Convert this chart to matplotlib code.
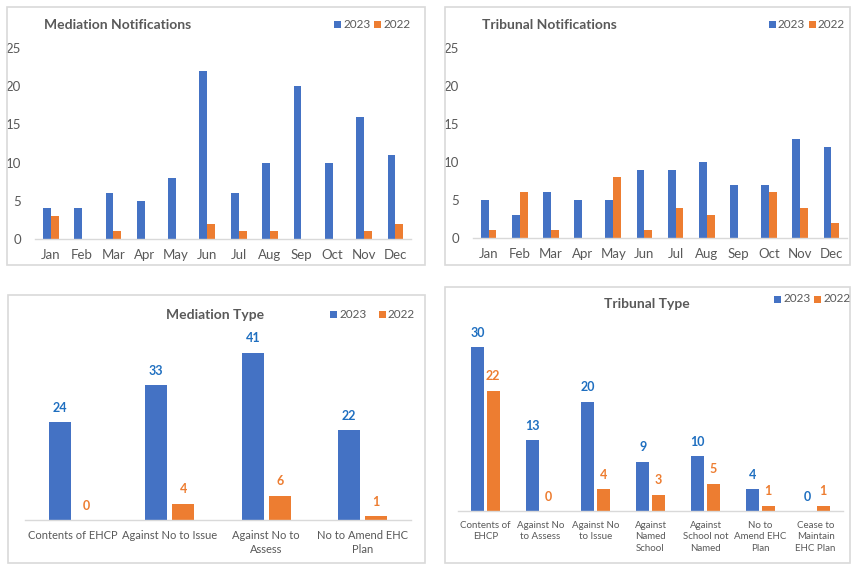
import matplotlib.pyplot as plt
from matplotlib.patches import Rectangle
import numpy as np

plt.rcParams['font.family'] = ['Lato', 'DejaVu Sans']

W, H = 852, 565
BLUE = '#4472C4'
ORANGE = '#ED7D31'
BLUE_LABEL = '#1F6FC0'
TEXT = '#595959'
LINE = '#D9D9D9'

months = ['Jan', 'Feb', 'Mar', 'Apr', 'May', 'Jun',
          'Jul', 'Aug', 'Sep', 'Oct', 'Nov', 'Dec']
med_2023 = [4, 4, 6, 5, 8, 22, 6, 10, 20, 10, 16, 11]
med_2022 = [3, 0, 1, 0, 0, 2, 1, 1, 0, 0, 1, 2]
trib_2023 = [5, 3, 6, 5, 5, 9, 9, 10, 7, 7, 13, 12]
trib_2022 = [1, 6, 1, 0, 8, 1, 4, 3, 0, 6, 4, 2]

med_types = ['Contents of EHCP', 'Against No to Issue',
             'Against No to\nAssess', 'No to Amend EHC\nPlan']
med_type_2023 = [24, 33, 41, 22]
med_type_2022 = [0, 4, 6, 1]

trib_types = ['Contents of\nEHCP', 'Against No\nto Assess',
              'Against No\nto Issue', 'Against\nNamed\nSchool',
              'Against\nSchool not\nNamed', 'No to\nAmend EHC\nPlan',
              'Cease to\nMaintain\nEHC Plan']
trib_type_2023 = [30, 13, 20, 9, 10, 4, 0]
trib_type_2022 = [22, 0, 4, 3, 5, 1, 1]


def px_axes(fig, left, top, right, bottom):
    # pixel box (origin top-left) -> figure axes
    return fig.add_axes([left / W, 1 - bottom / H,
                         (right - left) / W, (bottom - top) / H])


def frame(fig, left, top, right, bottom):
    fig.patches.append(Rectangle((left / W, 1 - bottom / H),
                                 (right - left) / W, (bottom - top) / H,
                                 transform=fig.transFigure, fill=False,
                                 edgecolor=LINE, linewidth=1.2))


def legend(fig, x, y, gap):
    for dx, color, label in [(0, BLUE, '2023'), (gap, ORANGE, '2022')]:
        fig.patches.append(Rectangle(((x + dx) / W, 1 - (y + 4) / H),
                                     7 / W, 7 / H, transform=fig.transFigure,
                                     facecolor=color, edgecolor='none'))
        fig.text((x + dx + 9) / W, 1 - y / H, label, fontsize=8.5,
                 color=TEXT, va='center', ha='left')


def style(ax, show_y):
    for side in ['top', 'right', 'left']:
        ax.spines[side].set_visible(False)
    ax.spines['bottom'].set_color(LINE)
    ax.spines['bottom'].set_linewidth(1.0)
    ax.tick_params(axis='both', length=0, labelcolor=TEXT, labelsize=9.5)
    ax.tick_params(axis='x', pad=7)
    if not show_y:
        ax.set_yticks([])


def monthly(fig, box, y2023, y2022):
    ax = px_axes(fig, *box)
    x = np.arange(len(months))
    w = 0.25
    ax.bar(x - w / 2, y2023, w, color=BLUE)
    ax.bar(x + w / 2, y2022, w, color=ORANGE)
    ax.set_xticks(x, months)
    ax.set_xlim(-0.5, len(months) - 0.5)
    ax.set_ylim(0, 25)
    ax.set_yticks(range(0, 26, 5))
    style(ax, True)
    ax.tick_params(axis='y', pad=10)
    return ax


def by_type(fig, box, cats, y2023, y2022, ymax, size, spacing):
    ax = px_axes(fig, *box)
    x = np.arange(len(cats))
    w, off = 0.23, 0.14
    b1 = ax.bar(x - off, y2023, w, color=BLUE)
    b2 = ax.bar(x + off, y2022, w, color=ORANGE)
    ax.bar_label(b1, padding=6, color=BLUE_LABEL, fontsize=9,
                 fontweight='bold')
    ax.bar_label(b2, padding=6, color=ORANGE, fontsize=9,
                 fontweight='bold')
    ax.set_xticks(x)
    ax.set_xticklabels(cats, fontsize=size, linespacing=spacing,
                       va='top')
    ax.set_xlim(-0.5, len(cats) - 0.5)
    ax.set_ylim(0, ymax)
    style(ax, False)
    ax.tick_params(axis='x', labelsize=size)
    return ax


fig = plt.figure(figsize=(W / 100, H / 100), dpi=100)
fig.patch.set_facecolor('white')

# top row: monthly notifications
frame(fig, 7, 7, 425, 265)
monthly(fig, (35, 48, 411, 239), med_2023, med_2022)
fig.text(44 / W, 1 - 25 / H, 'Mediation Notifications', fontsize=10,
         fontweight='bold', color=TEXT, va='center')
legend(fig, 334, 24, 40)

frame(fig, 445, 7, 850, 265)
monthly(fig, (473, 48, 847, 238), trib_2023, trib_2022)
fig.text(482 / W, 1 - 25 / H, 'Tribunal Notifications', fontsize=10,
         fontweight='bold', color=TEXT, va='center')
legend(fig, 769, 24, 40)

# bottom row: breakdown by type
frame(fig, 8, 295, 425, 563)
by_type(fig, (25, 330, 411, 520), med_types, med_type_2023, med_type_2022,
        46.6, 8.0, 1.35)
fig.text(215 / W, 1 - 315 / H, 'Mediation Type', fontsize=10,
         fontweight='bold', color=TEXT, va='center', ha='center')
legend(fig, 330, 314, 49)

frame(fig, 445, 287, 850, 563)
by_type(fig, (458, 330, 843, 511), trib_types, trib_type_2023,
        trib_type_2022, 33.1, 7.0, 1.35)
fig.text(647 / W, 1 - 304 / H, 'Tribunal Type', fontsize=10,
         fontweight='bold', color=TEXT, va='center', ha='center')
legend(fig, 774, 299, 40)

fig.savefig('out.png', dpi=100)
